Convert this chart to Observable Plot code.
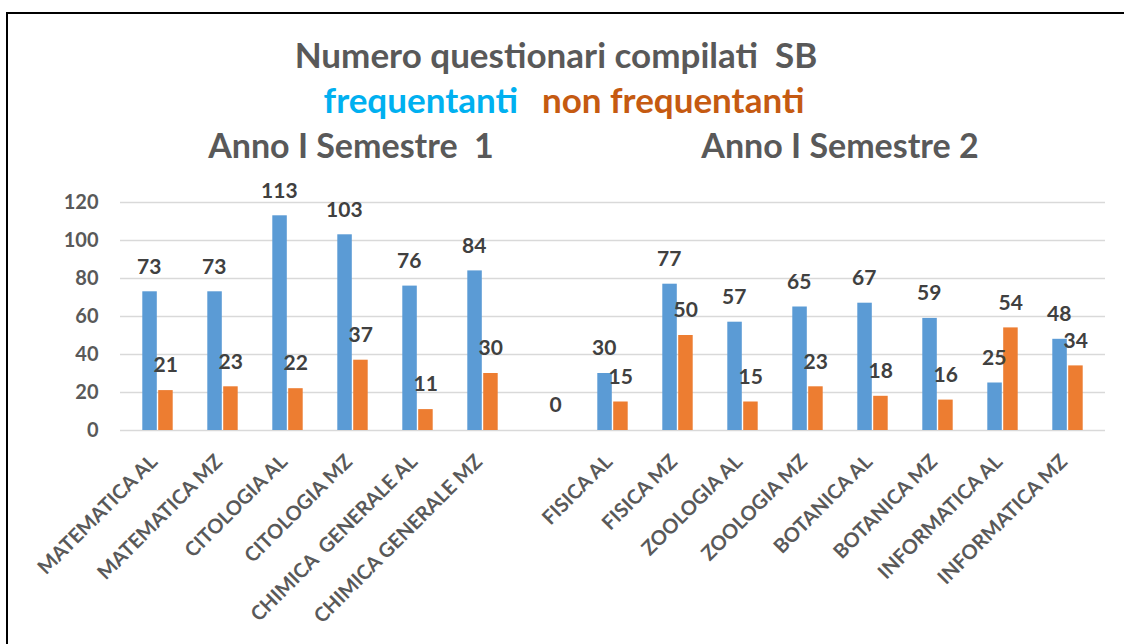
<!DOCTYPE html>
<html>
<head>
<meta charset="utf-8">
<script src="https://cdn.jsdelivr.net/npm/d3@7"></script>
<script src="https://cdn.jsdelivr.net/npm/@observablehq/plot@0.6"></script>
<style>
  html, body { margin: 0; padding: 0; background: #fff; }
  body { width: 1124px; height: 644px; overflow: hidden; position: relative; font-family: Lato, "Open Sans", sans-serif; }
  #frame { position: absolute; left: 6px; top: 12px; width: 1200px; height: 700px; border-left: 2px solid #000; border-top: 2px solid #000; }
  .t { position: absolute; white-space: pre; font-weight: bold; text-align: center; transform: translate(-50%, -50%); line-height: 1; }
  #chart { position: absolute; left: 0; top: 170px; }
</style>
</head>
<body>
<div id="frame"></div>
<div class="t" id="title" style="left:556px; top:54px; font-size:35px; color:#595959;"></div>
<div class="t" id="legend" style="left:564px; top:99px; font-size:35px;"></div>
<div class="t" id="sem1" style="left:351px; top:145px; font-size:34px; color:#595959;"></div>
<div class="t" id="sem2" style="left:840px; top:145px; font-size:34px; color:#595959;"></div>
<div id="chart"></div>
<script>
const titleText = "Numero questionari compilati  SB";
const seriesNames = ["frequentanti", "non frequentanti"];
const seriesColors = ["#5B9BD5", "#ED7D31"];
const legendColors = ["#00B0F0", "#C55A11"];
const groupTitles = ["Anno I Semestre  1", "Anno I Semestre 2"];

const categories = [
  "MATEMATICA AL", "MATEMATICA MZ", "CITOLOGIA AL", "CITOLOGIA MZ",
  "CHIMICA  GENERALE AL", "CHIMICA GENERALE MZ", " ",
  "FISICA AL", "FISICA MZ", "ZOOLOGIA AL", "ZOOLOGIA MZ",
  "BOTANICA AL", "BOTANICA MZ", "INFORMATICA AL", "INFORMATICA MZ"
];
const frequentanti =    [73, 73, 113, 103, 76, 84, null, 30, 77, 57, 65, 67, 59, 25, 48];
const nonFrequentanti = [21, 23, 22, 37, 11, 30, 0, 15, 50, 15, 23, 18, 16, 54, 34];
const yTicks = [0, 20, 40, 60, 80, 100, 120];

document.getElementById("title").textContent = titleText;
document.getElementById("sem1").textContent = groupTitles[0];
document.getElementById("sem2").textContent = groupTitles[1];
const leg = document.getElementById("legend");
seriesNames.forEach((n, i) => {
  const s = document.createElement("span");
  s.textContent = n;
  s.style.color = legendColors[i];
  if (i > 0) s.style.marginLeft = "24px";
  leg.appendChild(s);
});

const rows = categories.map((c, i) => ({cat: c, freq: frequentanti[i], non: nonFrequentanti[i]}));
const off = 7.7;
const labelStyle = {fontSize: 21, fontWeight: "bold", fill: "#404040"};

const chart = Plot.plot({
  width: 1124,
  height: 474,
  marginTop: 32,
  marginBottom: 214,
  marginLeft: 120,
  marginRight: 19,
  style: {fontFamily: "Lato, 'Open Sans', sans-serif", color: "#595959", background: "transparent", overflow: "visible"},
  x: {domain: categories, paddingInner: 0.765, paddingOuter: 0.3825, axis: null},
  y: {domain: [0, 120], axis: null},
  marks: [
    Plot.ruleY(yTicks, {stroke: "#D9D9D9", strokeWidth: 1.6}),
    Plot.axisY({ticks: yTicks, tickSize: 0, tickPadding: 22, fontSize: 20, fontWeight: "bold", label: null}),
    Plot.barY(rows, {x: "cat", y: "freq", fill: seriesColors[0], dx: -off, insetRight: 0.5}),
    Plot.barY(rows, {x: "cat", y: "non", fill: seriesColors[1], dx: off, insetLeft: 0.5}),
    Plot.text(rows.filter(d => d.freq != null), {x: "cat", y: "freq", text: d => String(d.freq), dx: -off - 1, dy: -25, ...labelStyle}),
    Plot.text(rows.filter(d => d.non != null), {x: "cat", y: "non", text: d => String(d.non), dx: off, dy: -25, ...labelStyle}),
    Plot.axisX({tickRotate: -45, tickSize: 0, tickPadding: 28, dx: -4, fontSize: 20, fontWeight: "bold", label: null})
  ]
});
document.getElementById("chart").appendChild(chart);
</script>
</body>
</html>
